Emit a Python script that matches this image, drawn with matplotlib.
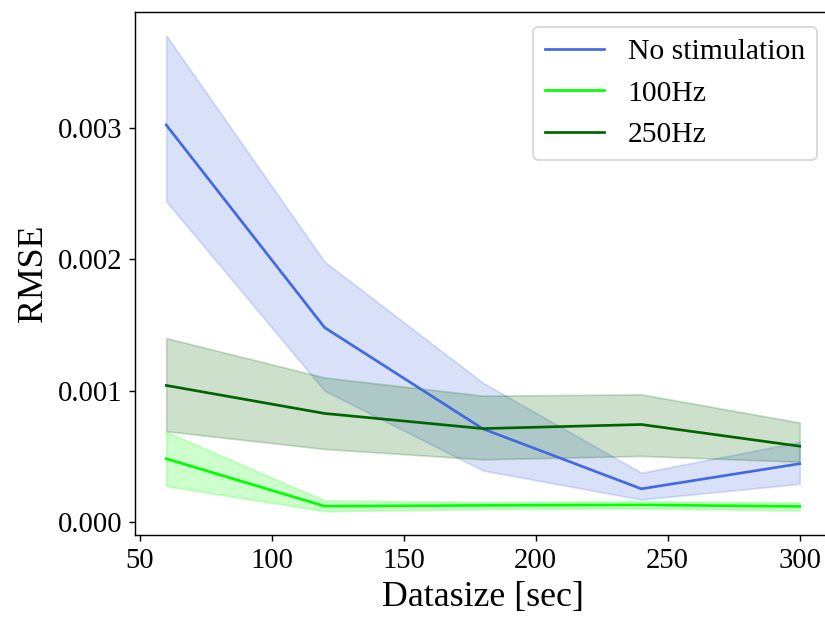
import matplotlib
matplotlib.use("Agg")
import matplotlib.pyplot as plt
from matplotlib.ticker import FormatStrFormatter
import numpy as np

### DATA ###

datasize = [60, 120, 180, 240, 300]

no_stim_mean = [0.00302, 0.00148, 0.00071, 0.000254, 0.000445]
no_stim_low = [0.00244, 0.00100, 0.000394, 0.000173, 0.000292]
no_stim_high = [0.00370, 0.00198, 0.00106, 0.000376, 0.00061]

hz100_mean = [0.000483, 0.000122, 0.000128, 0.000132, 0.000120]
hz100_low = [0.000275, 0.000084, 0.000100, 0.000105, 0.000090]
hz100_high = [0.000687, 0.000165, 0.000155, 0.000160, 0.000150]

hz250_mean = [0.00104, 0.000827, 0.000712, 0.000743, 0.000578]
hz250_low = [0.000692, 0.000557, 0.000478, 0.000504, 0.000460]
hz250_high = [0.00140, 0.00110, 0.000962, 0.000972, 0.000758]

labels = ["No stimulation", "100Hz", "250Hz"]
colors = ["royalblue", "lime", "darkgreen"]


### PLOT ###

plt.rcParams["font.family"] = ["Liberation Serif", "DejaVu Serif"]

fig = plt.figure(figsize=(6.4, 4.8), dpi=129)
ax = fig.add_axes([0.163, 0.1357, 0.844, 0.845])

series = [
    (no_stim_mean, no_stim_low, no_stim_high),
    (hz100_mean, hz100_low, hz100_high),
    (hz250_mean, hz250_low, hz250_high),
]

for (mean, low, high), label, color in zip(series, labels, colors):
    ax.plot(datasize, mean, color=color, label=label, linewidth=1.5)
    ax.fill_between(datasize, low, high, color=color, alpha=0.2)

ax.yaxis.set_major_formatter(FormatStrFormatter("%.3f"))
ax.set_yticks([0.0, 0.001, 0.002, 0.003])
ax.set_xticks([50, 100, 150, 200, 250, 300])
ax.tick_params(labelsize=16)
ax.set_xlabel("Datasize [sec]", fontsize=20)
ax.set_ylabel("RMSE", fontsize=20)
ax.legend(loc="upper right", fontsize=16.5)

fig.savefig("out.png", dpi=129)
